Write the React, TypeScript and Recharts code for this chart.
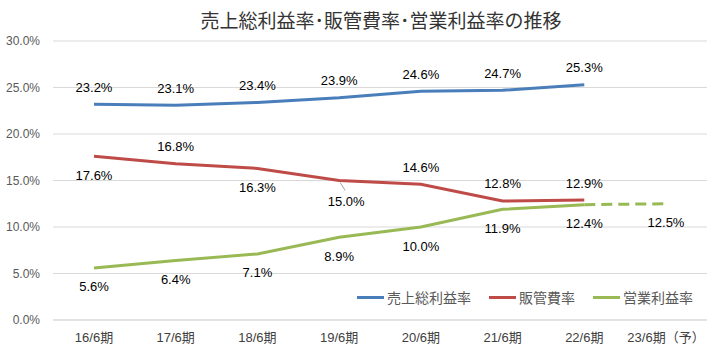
import { LineChart, Line, XAxis, YAxis, CartesianGrid, Legend, LabelList } from "recharts";

const categories = ["16/6期", "17/6期", "18/6期", "19/6期", "20/6期", "21/6期", "22/6期", "23/6期（予）"];
const grossMargin = [23.2, 23.1, 23.4, 23.9, 24.6, 24.7, 25.3, null];
const sgaRatio = [17.6, 16.8, 16.3, 15.0, 14.6, 12.8, 12.9, null];
const opMargin = [5.6, 6.4, 7.1, 8.9, 10.0, 11.9, 12.4, null];
const opForecast = [null, null, null, null, null, null, 12.4, 12.5];
const yTicks = [0, 5, 10, 15, 20, 25, 30];

// where each data label sits relative to its point
const grossPos = ["up", "up", "up", "up", "up", "up", "up"];
const sgaPos = ["down", "up", "down", "leader", "up", "up", "up"];
const opPos = ["down", "down", "down", "down", "down", "down", "down"];

const series = [
  { key: "売上総利益率", color: "#4a7ebb" },
  { key: "販管費率", color: "#be4b48" },
  { key: "営業利益率", color: "#98b954" },
];

const data = categories.map((c, i) => ({
  name: c,
  売上総利益率: grossMargin[i],
  販管費率: sgaRatio[i],
  営業利益率: opMargin[i],
  予想: opForecast[i],
}));

const FONT = '"Liberation Sans", "Noto Sans CJK JP", sans-serif';
const CJK = '"Noto Sans CJK JP", sans-serif';

const makeLabel = (pos: string[], only?: number) => (props: any) => {
  const { x, y, value, index } = props;
  if (value == null) return null;
  if (only != null && index !== only) return null;
  const p = only != null ? "down" : pos[index] ?? "up";
  const txt = Number(value).toFixed(1) + "%";
  if (p === "leader") {
    return (
      <g>
        <line x1={x + 1} y1={y + 2} x2={x + 6} y2={y + 10} stroke="#a6a6a6" strokeWidth={1} />
        <text x={x + 7} y={y + 21} textAnchor="middle" dominantBaseline="central" fontSize={13} fontFamily={FONT} fill="#000">
          {txt}
        </text>
      </g>
    );
  }
  const dy = p === "up" ? -17 : 19;
  return (
    <text x={x} y={y + dy} textAnchor="middle" dominantBaseline="central" fontSize={13} fontFamily={FONT} fill="#000">
      {txt}
    </text>
  );
};

const renderLegend = () => (
  <div style={{ display: "flex", alignItems: "center", fontFamily: CJK, fontSize: 14, color: "#595959" }}>
    {series.map((s) => (
      <div key={s.key} style={{ display: "flex", alignItems: "center", marginRight: 18 }}>
        <span style={{ display: "inline-block", width: 27, height: 3, background: s.color, marginRight: 3 }} />
        <span>{s.key}</span>
      </div>
    ))}
  </div>
);

export default function App() {
  return (
    <div style={{ position: "absolute", left: 0, top: 0, width: 715, height: 358, background: "#fff" }}>
      <div
        style={{
          position: "absolute",
          left: 381,
          top: 6,
          transform: "translateX(-50%)",
          whiteSpace: "nowrap",
          fontFamily: CJK,
          fontSize: 19,
          color: "#333",
          lineHeight: "28px",
        }}
      >
        売上総利益率･販管費率･営業利益率の推移
      </div>
      <LineChart width={715} height={358} data={data} margin={{ top: 41, right: 8, bottom: 8, left: 0 }}>
        <CartesianGrid vertical={false} stroke="#d9d9d9" />
        <XAxis
          dataKey="name"
          height={30}
          padding={{ left: 41, right: 41 }}
          axisLine={{ stroke: "#d9d9d9" }}
          tickLine={false}
          tickMargin={7}
          tick={{ fontSize: 13, fontFamily: FONT, fill: "#404040" }}
        />
        <YAxis
          width={53}
          domain={[0, 30]}
          ticks={yTicks}
          axisLine={false}
          tickLine={false}
          tickMargin={7}
          tickFormatter={(v: number) => v.toFixed(1) + "%"}
          tick={{ fontSize: 12, fontFamily: FONT, fill: "#595959" }}
        />
        <Legend
          layout="horizontal"
          verticalAlign="middle"
          align="center"
          wrapperStyle={{ top: 287, left: 357, width: 360 }}
          content={renderLegend}
        />
        <Line dataKey="売上総利益率" stroke="#4a7ebb" strokeWidth={3} dot={false} isAnimationActive={false}>
          <LabelList dataKey="売上総利益率" content={makeLabel(grossPos)} />
        </Line>
        <Line dataKey="販管費率" stroke="#be4b48" strokeWidth={3} dot={false} isAnimationActive={false}>
          <LabelList dataKey="販管費率" content={makeLabel(sgaPos)} />
        </Line>
        <Line dataKey="営業利益率" stroke="#98b954" strokeWidth={3} dot={false} isAnimationActive={false}>
          <LabelList dataKey="営業利益率" content={makeLabel(opPos)} />
        </Line>
        <Line
          dataKey="予想"
          stroke="#98b954"
          strokeWidth={3}
          strokeDasharray="11 6"
          dot={false}
          legendType="none"
          isAnimationActive={false}
        >
          <LabelList dataKey="予想" content={makeLabel(opPos, 7)} />
        </Line>
      </LineChart>
    </div>
  );
}
